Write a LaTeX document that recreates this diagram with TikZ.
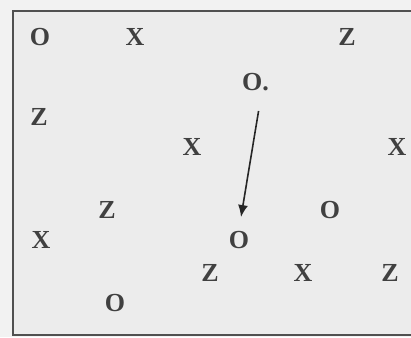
\documentclass[tikz,border=0pt]{standalone}
\usepackage{fontspec}
\setmainfont{Liberation Serif}
\usetikzlibrary{arrows.meta}
\definecolor{paper}{RGB}{236, 236, 236}
\definecolor{frame}{RGB}{80, 80, 80}
\tikzset{
  letter/.style={font=\fontsize{26}{30}\selectfont\bfseries, text=black!75, inner sep=0pt},
  move/.style={-{Latex[length=12pt, width=10pt]}, line width=1.6pt, black!85}
}

\begin{document}
\begin{tikzpicture}[x=1pt, y=-1pt]
  \useasboundingbox (0,0) rectangle (411,337);
  \fill[black!5] (0,0) rectangle (411,337);
  \fill[paper] (13,11) rectangle (411,335);
  % frame, open on the right
  \draw[frame, line width=2.2pt] (411,11) -- (13,11) -- (13,335) -- (411,335);

  % scattered symbols
  \node[letter] (o1) at (40,37) {O};
  \node[letter] (x1) at (135,37) {X};
  \node[letter] (z1) at (347,37) {Z};
  \node[letter, anchor=west] (src) at (242,82) {O.};
  \node[letter] (z2) at (39,117) {Z};
  \node[letter] (x2) at (192,147) {X};
  \node[letter] (x3) at (397,147) {X};
  \node[letter] (z3) at (107,210) {Z};
  \node[letter] (o2) at (330,210) {O};
  \node[letter] (x4) at (41,240) {X};
  \node[letter] (dst) at (239,240) {O};
  \node[letter] (z4) at (210,273) {Z};
  \node[letter] (x5) at (303,273) {X};
  \node[letter] (z5) at (390,273) {Z};
  \node[letter] (o3) at (115,303) {O};

  % the move
  \draw[move] ([shift={(3,20)}]src.south) -- ([shift={(2,-14)}]dst.north);
\end{tikzpicture}
\end{document}
